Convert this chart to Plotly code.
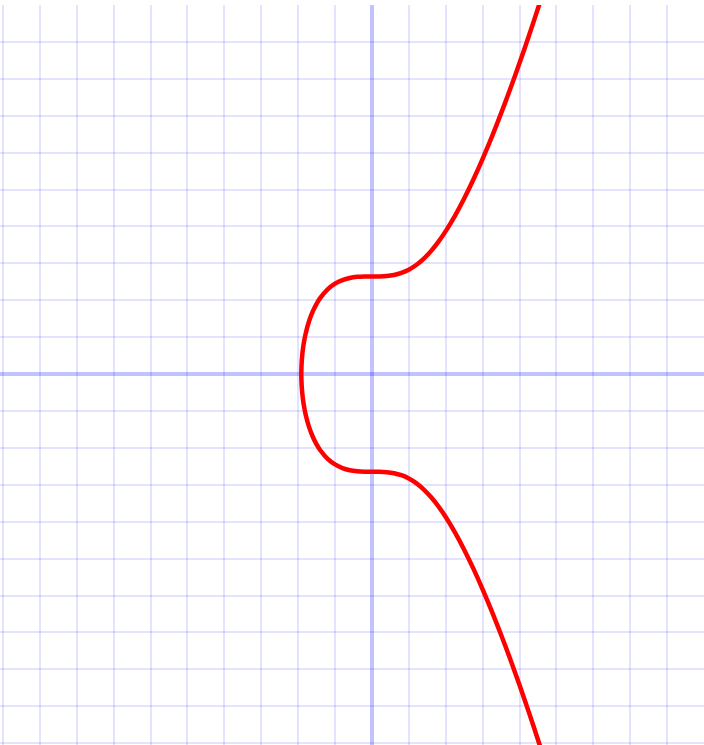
import plotly.graph_objects as go

# Curve y^2 = x^3 + 7 (bottom branch to top branch)
curve_x = [4.75, 4.5, 4.25, 4.0, 3.75, 3.5, 3.25, 3.0, 2.75, 2.5, 2.25, 2.0, 1.8, 1.6, 1.4, 1.2, 1.0,
           0.8, 0.6, 0.4, 0.2, 0.0, -0.2, -0.4, -0.6, -0.8, -1.0, -1.2, -1.4, -1.5, -1.6, -1.7, -1.8,
           -1.85, -1.88, -1.9, -1.91, -1.913,
           -1.91, -1.9, -1.88, -1.85, -1.8, -1.7, -1.6, -1.5, -1.4, -1.2, -1.0, -0.8, -0.6, -0.4, -0.2,
           0.0, 0.2, 0.4, 0.6, 0.8, 1.0, 1.2, 1.4, 1.6, 1.8, 2.0, 2.25, 2.5, 2.75, 3.0, 3.25, 3.5,
           3.75, 4.0, 4.25, 4.5, 4.75]
curve_y = [-10.685, -9.906, -9.152, -8.426, -7.729, -7.062, -6.429, -5.831, -5.272, -4.757, -4.289,
           -3.873, -3.582, -3.331, -3.122, -2.954, -2.828, -2.741, -2.686, -2.658, -2.647, -2.646,
           -2.644, -2.634, -2.605, -2.547, -2.449, -2.296, -2.063, -1.904, -1.704, -1.445, -1.081,
           -0.817, -0.596, -0.375, -0.179, 0.0,
           0.179, 0.375, 0.596, 0.817, 1.081, 1.445, 1.704, 1.904, 2.063, 2.296, 2.449, 2.547, 2.605,
           2.634, 2.644, 2.646, 2.647, 2.658, 2.686, 2.741, 2.828, 2.954, 3.122, 3.331, 3.582, 3.873,
           4.289, 4.757, 5.272, 5.831, 6.429, 7.062, 7.729, 8.426, 9.152, 9.906, 10.685]

x_range = [-10.08, 9.0]
y_range = [-10.05, 10.0]

fig = go.Figure()
fig.add_trace(go.Scatter(x=curve_x, y=curve_y, mode="lines",
                         line=dict(color="#ff0000", width=4.5, shape="spline", smoothing=0.6),
                         hoverinfo="skip", showlegend=False))

axis_common = dict(dtick=1, showgrid=True, gridcolor="rgba(0,0,255,0.11)", gridwidth=2,
                   zeroline=True, zerolinecolor="rgba(0,0,255,0.24)", zerolinewidth=4,
                   showticklabels=False, ticks="", showline=False, fixedrange=True)
fig.update_xaxes(range=x_range, tick0=0, **axis_common)
fig.update_yaxes(range=y_range, tick0=0, **axis_common)

fig.update_layout(width=704, height=745, margin=dict(l=0, r=0, t=5, b=0),
                  paper_bgcolor="white", plot_bgcolor="white", showlegend=False)

fig.write_html("out.html", config={"displayModeBar": False},
               post_script="document.body.style.margin='0';document.body.style.overflow='hidden';")
